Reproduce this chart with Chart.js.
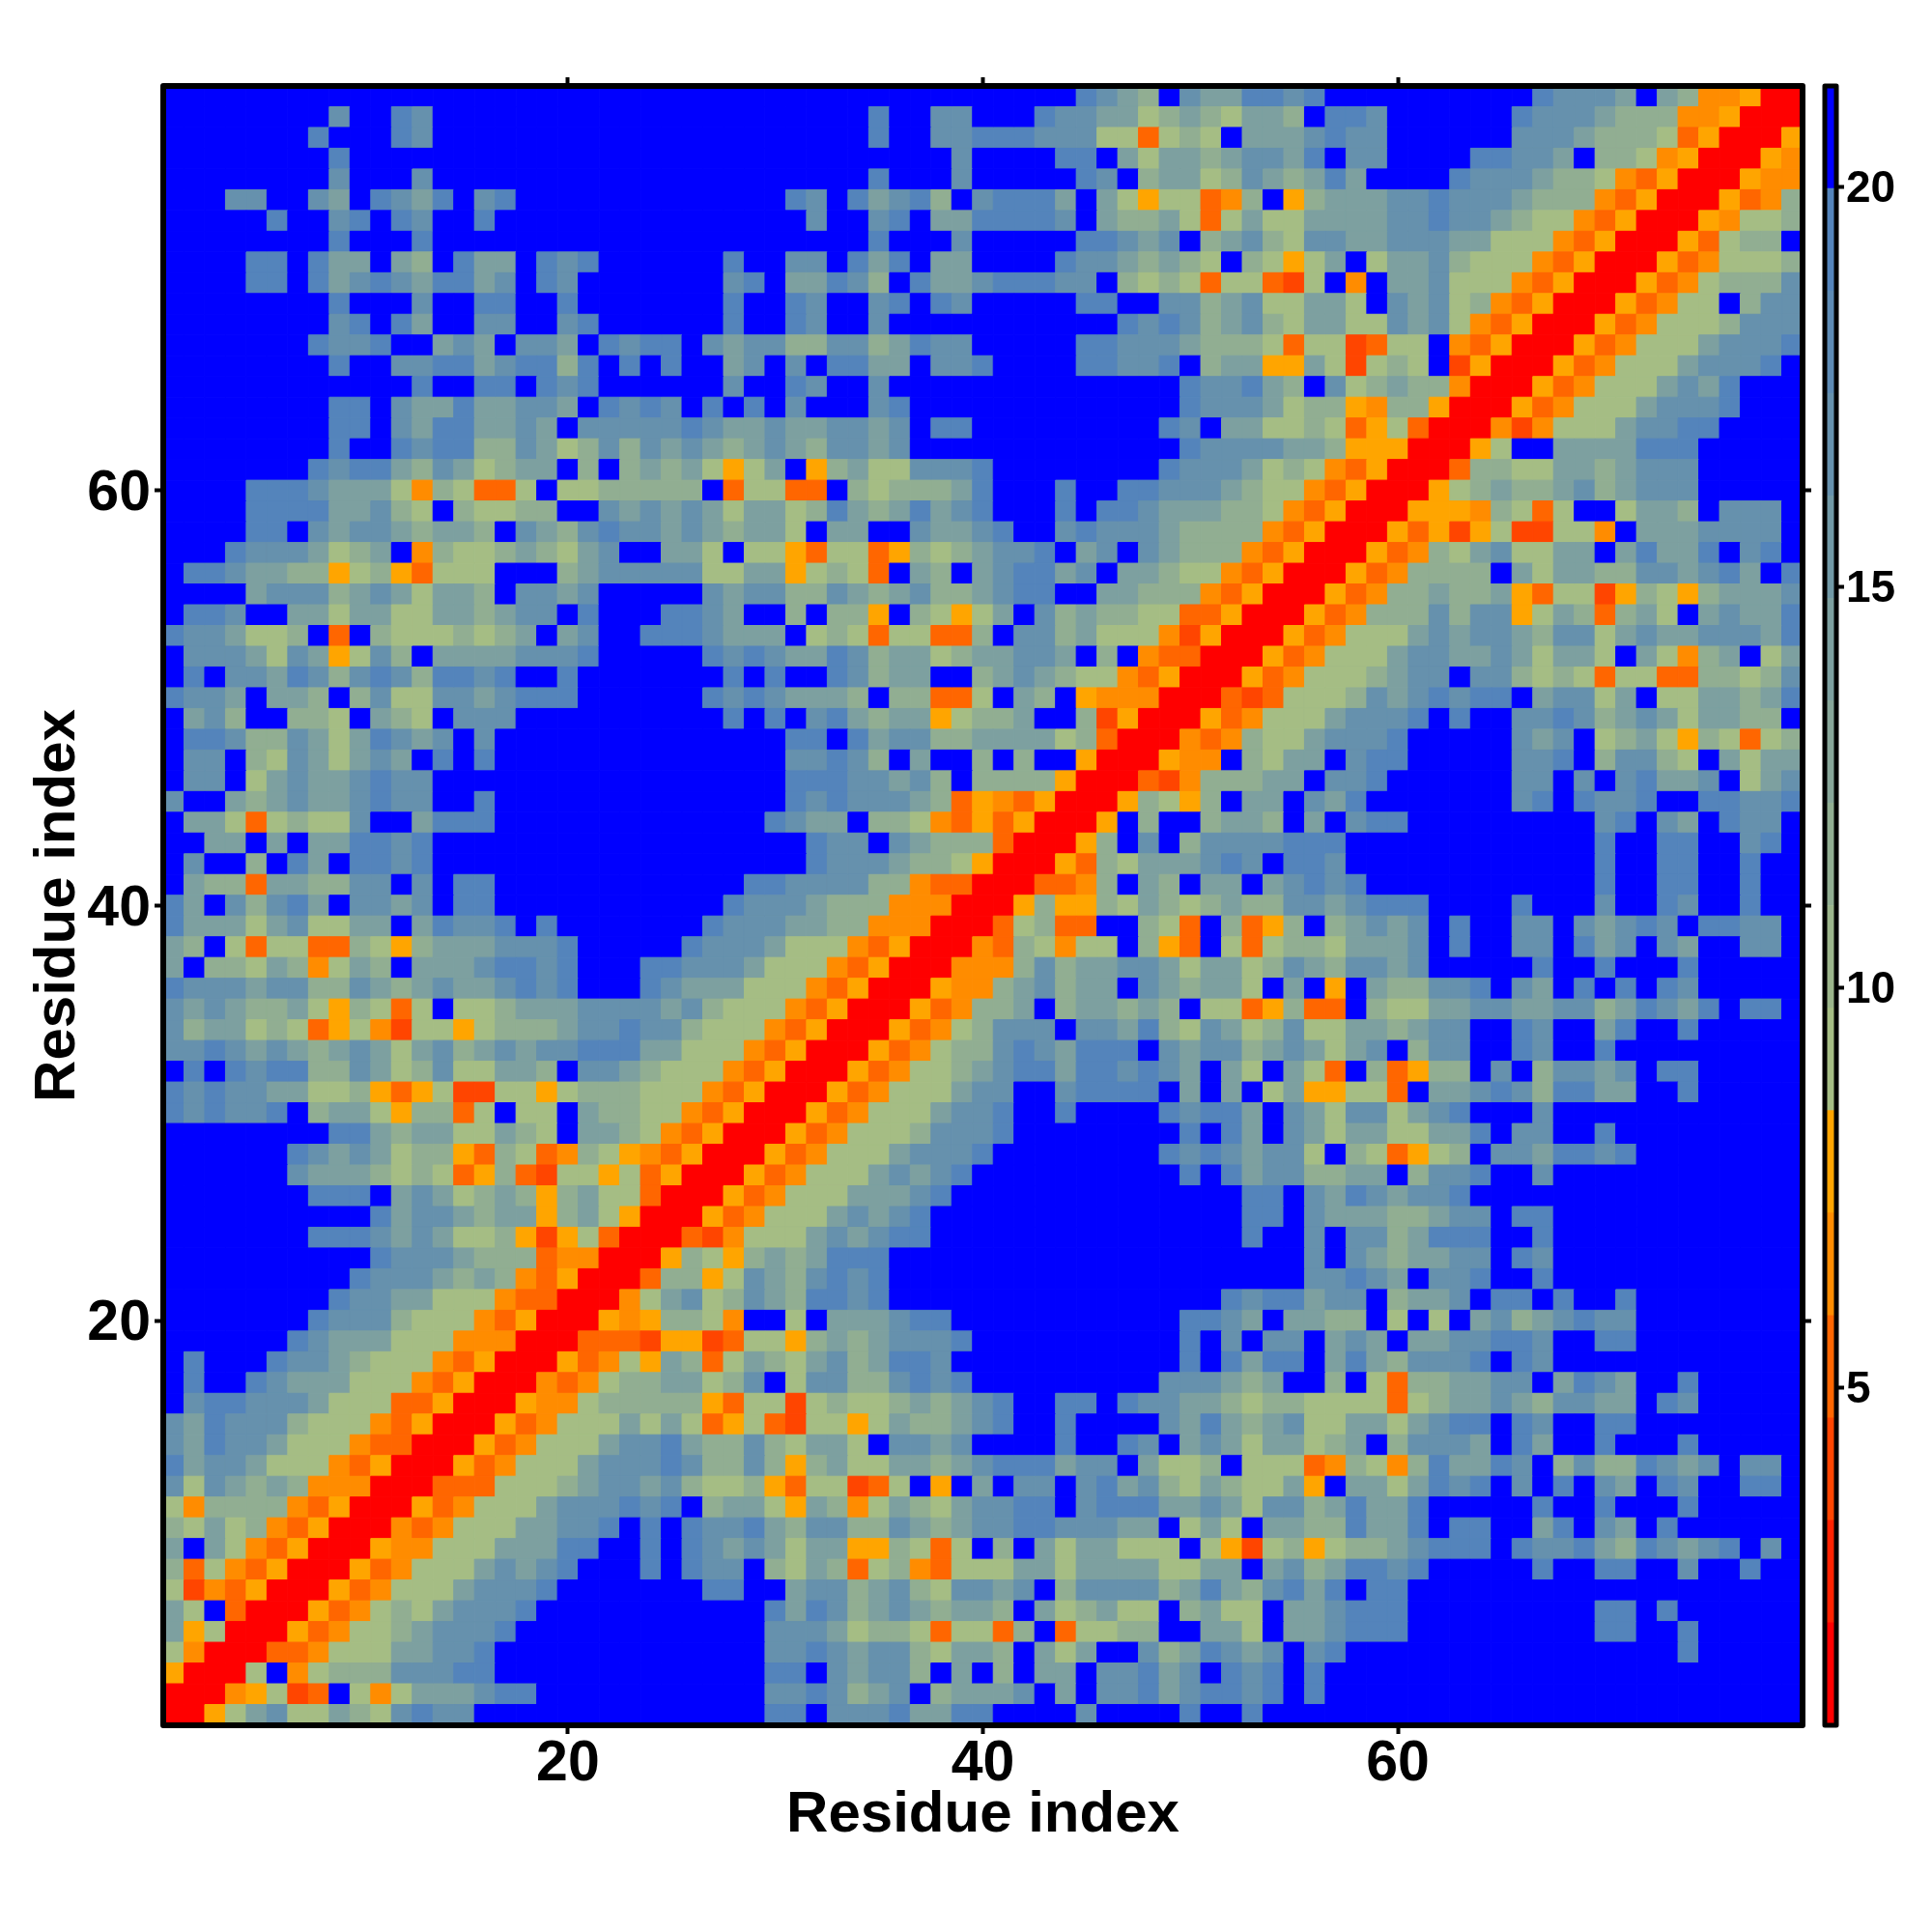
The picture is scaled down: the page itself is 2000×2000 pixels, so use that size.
<!DOCTYPE html>
<html>
<head>
<meta charset="utf-8">
<title>Residue distance map</title>
<script src="https://cdn.jsdelivr.net/npm/chart.js@4"></script>
<style>
  body { margin: 0; background: #fff; }
  #mapChart { position: absolute; left: 0; top: 0; }
  #barChart { position: absolute; left: 1880px; top: 0; }
</style>
</head>
<body>
<canvas id="mapChart" width="2000" height="2000"></canvas>
<canvas id="barChart" width="120" height="2000"></canvas>
<script>
const residueTicks = [20, 40, 60];
const barTicks = [5, 10, 15, 20];
const levelBreaks = [0.78, 2.06, 3.34, 4.62, 5.9, 7.18, 8.46, 9.74, 11.02, 12.3, 13.58, 14.86, 16.14, 17.42, 18.7, 19.98, 21.26];
const levelColors = ['#ff0000', '#ff2200', '#ff4500', '#ff6600', '#ff8c00', '#ffa500',
  '#a5bd84', '#9bb58b', '#91ae92', '#87a699', '#7da0a0', '#7199a6', '#6691ad', '#5d8ab4', '#5484bb', '#0000ff'];
// one character per cell
const codeValues = { '0': 1.5, '1': 4, '2': 5.2, '3': 6.5, '4': 7.8, '5': 9, '6': 11.5, '7': 14, '8': 16.5, '9': 19, '.': 21 };
const panelWidths = [27, 26, 26];
// rows run from residue 79 down to residue 1, three blocks per row, trailing blue left out
const distanceRows = [
". .................9876.8779 989..........98887.7633400",
"........8..98 .......9..88...98877567657 76.998......98887666334000",
".......9...98 .......9..88999888552565.7 778988......88876665240004",
"........9 ...........8....99.7577678 879.88....99887.6653400043",
"........8...8 .......9...8.....98.677568 76797....98887665324000433",
"...88..87.9879.89 ...98.97896.89997.75455236 .4677788988876663240004236",
".....9..89.98..9 ....8..89.7799998.76675257 55777788988765532400043556",
"........9...9 .......9...8.....99878.678 6588778887755532400042566.",
"....99.977.76.977.989 9..88.979.77....98876765.6 5457.577865553240004235556",
"....99.9789879978.98 89.77986.977899988.6565255 215.3.77855532400042356668",
"........9...8..99..9 9..98..89.98.....99..88678 55775.8785632400042355.688",
"........89.97..88..89 9..98..8...........9898678 65775587853240004235556888",
".......9889..787.887.9899.8 788668867988.....998887666 52551255.32400042355578889",
"........9..8899789969.9.9 78.8.9977.889....99889.677 44751565.1400042355578889.",
"............9..99.989 8..98..8..............9889 76.85676630004235557879...",
"........99.877977887.9898.9 .9.8...89.............9888 75664366400042355578889...",
"........99.87997787.8888898 778778878.99.........98.77 5565245200031355578899....",
"........9..9899668756868787 678768878.............9888 877644400045..7777999.....",
".......989976875677.6.67675 457.467558889........98887 565324000266557767888.....",
"....99987775365225.5566666. 25522.6566679...9..9988876 553240004567667867888.....",
"....999977865.65566..878787 5775697679789...9.99877766 532400044436525..5776.888.",
"....99.878876776.8768988787 6775.77..87789..8988876666 32400042414511553.7778888.",
"...98887567.3655676578..775 .554255246567889.78.876663 2400042365785577.79779.89.",
".998776645642555...67888885 57745652.76.789978.7765532 40004236666.757766887897.9",
"....788867875776.8878.....8 7886687678667899..77666324 00042366766742551465467778",
".998..7757755776788.9...998 7..6.664.65457.86766552240 00423666868845762675.78779",
"9887556.2.65556567.78..9998 777.565255226.886755531400 04235557878876885787788879",
".88875874586.77778889.....9 89877986775677887.6.322000 42355578877875775.75367.57",
".9.88798689869989..9 9.9..98677..67876553240004 235556788.8865652552266568",
"9887.776.68558878999......9 8987776.66225.76.433300021 255568789899.78857.5577679",
".786..665.765.888 9.9.89767745667..614000423 55578889.9..8898678757766.",
".9986687579878.8 ...99.97886677775620003236 5578889.....878.5675465256",
".88.65875787.9.9 ...88986.7..6.6..4000433.6 577.899.....889.68865.7577",
".88.578778988 ...99988786.66664000213666 77.889......88.8.89778.578",
"8..7678778988..9 ...989888762432400046546.7 7.879.......89.9889..99889",
".775256558..7999 ..9877.665324240004.6..677 6.7.899.........89.87.988.",
"..77.7.779989 ....988.87666200046.8.6888 8999............9..99..89.",
".8..6.97.9989 ....9888766540004265777898 .998............9..99..9",
".7662776688.8.99 .998888663220002236.76.77. 78989...........9..99..9",
"97.86897.8878.99 98887666333000464465765676 68878999....9...8..98..9",
"97775785577.79889.9.......9 888776633300025622..652.62 46.67878.9..88.87898.9988.",
"76.52552265467778889.....98 8875553240003265355.642.52 56657778.9..88.978.87..88",
"7.665763576.77789989...9988 87555324000333686778875775 68768878.....9..9...9",
"98887886687678778989...9877 7555324000433678677.876775 .7.4.766889.87.9.9.98",
"8787667546525.5567778888786 555324000423667.677676.552 4622.65577887788679879.99.",
"867756524531554566678898865 5532400042356888.887965875 6855776788..98..79..9",
"889878767875786787889997755 53240004235668987999.87886 787578.688..98..9",
".9.9899668756855776.8876555 32400042355678997998987.75 .752.62466.8.68878.99",
"989887755642451155456665553 24000423555788..89999.7.7. 5744552.7789869977..9",
"989889.677546625.55.7665532 40004235557889..9....98997 .875885789...8",
"........99767755765.7765324 00042355568889........9.97 .8757755779.88..9",
"......987875664265236543240 0042355578889........98987 885.652456.8879989",
"......877765652462155452400 042355578789..........9.97 886677.6889..8",
".......999.7875676467552000 42355577789..............9 9.87987889",
"..........97887677467540004 2355578789...............9 9.877766788.99",
".......99987875564145200021 3555787899...............9 ..8.8867999..9",
"..........98887666233000465 46767999 ..8.8767788.98",
".........988876763240002664 58768989 ..88987.889..9",
"........9887755532200035785 68769989................98 99788.6778.99.9..9",
".......98886555324000434665 3..5.777899...........9987 .7766.5.5.78678988",
"......987775553330002221441 255467678889..........9.8. 88.787.7788998..99",
".9...9887655532400042354762 57657867998...........9.97 99.79768889.98",
".9..98777555324000323566775 68.588668989.........88876 7..6.52667788.7987..9",
".89988875552240004335666664 25515655676789..99.9887765 665555256778768877.98",
"879888655532400042355575752 45215545766789..9....87976 78557757899.98..99",
"879887555322000423555788976 6865775.8878....9..98.7875 77567.68887.97..9...9",
"978875553240004235557888986 6864675577678999788.7556.5 5523653697798.68669878.88",
"858767633300022255567887865 564255125.4.7.88.897865765 574.7757989.8.9.87.98..99",
"5366663240004235557888989.6 7754763576578899.899977875 88679779.....9..9...9",
"6575632400032355577889.9.98 897688668767889988877.575. 77669779.99..79.87.9",
"7.7532400043355577799..9.98 787577446525.6.7577555.541 56456678999.98897698789.8",
"62532400042355578789...9.98 8.65762563255577577775577. 78679989.....9..99..8..9",
"5132400042355578889.......9 9..788678658878.6888867976 8979.99",
"75.200042356578889 ..979867876776.756755.6755 .778999.........99.9",
"74500042355678889 ..8887566525526.25566..775 .778999.........99..9",
"5300022355577889 ..889878865776.757..867987 8.89................9",
"40005.3566688899 ..99.87886.7.6.77.88978.98 9.9",
"00034512.535777899 ..8898678.67778.7.88978998 9.9",
"004578557658988 ..99.88897799....8....9..9 ."
];

const rowCount = distanceRows.length;
const axisMin = 0.5;
const axisMax = rowCount + 0.5;

function levelColor(v) {
  for (let i = 0; i < levelColors.length; i++) {
    if (v < levelBreaks[i + 1]) return levelColors[i];
  }
  return levelColors[levelColors.length - 1];
}

const cells = [];
distanceRows.forEach(function (row, i) {
  const text = row.split(' ').map(function (part, k) {
    return part.padEnd(panelWidths[k], '.');
  }).join('');
  for (let c = 0; c < text.length; c++) {
    cells.push({ x: c + 1, y: rowCount - i, v: codeValues[text[c]] });
  }
});

// outline of the plot, both charts use it
const frame = {
  id: 'frame',
  afterDraw(chart, args, opts) {
    const a = chart.chartArea;
    const ctx = chart.ctx;
    ctx.save();
    ctx.strokeStyle = '#000';
    ctx.lineWidth = opts.width;
    ctx.lineJoin = 'round';
    ctx.strokeRect(a.left, a.top, a.right - a.left, a.bottom - a.top);
    ctx.restore();
  }
};

function setTicks(values) {
  return function (axis) {
    axis.ticks = values.map(function (v) { return { value: v }; });
  };
}

function residueAxis(position, size, extra) {
  const horizontal = position === 'top' || position === 'bottom';
  return Object.assign({
    type: 'linear',
    position: position,
    min: axisMin,
    max: axisMax,
    afterBuildTicks: setTicks(residueTicks),
    afterFit(axis) {
      if (horizontal) axis.height = size; else axis.width = size;
    },
    border: { display: false },
    grid: { drawOnChartArea: false, tickLength: 9, tickWidth: 4, tickColor: '#000' },
    ticks: { display: false }
  }, extra);
}

const labelFont = { family: 'Liberation Sans', weight: 'bold', size: 59 };
const titleFont = { family: 'Liberation Sans', weight: 'bold', size: 60 };

new Chart(document.getElementById('mapChart'), {
  type: 'scatter',
  data: {
    datasets: [{
      data: cells,
      pointStyle: 'rect',
      pointRadius(ctx) {
        const s = ctx.chart.scales.x;
        return (s.getPixelForValue(1) - s.getPixelForValue(0)) * Math.SQRT1_2;
      },
      pointHoverRadius: 0,
      pointBackgroundColor(ctx) { return levelColor(ctx.raw.v); },
      pointBorderColor(ctx) { return levelColor(ctx.raw.v); },
      pointBorderWidth: 1
    }]
  },
  plugins: [frame],
  options: {
    responsive: false,
    animation: false,
    events: [],
    plugins: { legend: { display: false }, tooltip: { enabled: false }, frame: { width: 6 } },
    scales: {
      x: residueAxis('bottom', 214, {
        ticks: { display: true, font: labelFont, color: '#000', maxRotation: 0, autoSkip: false, padding: -4 },
        title: { display: true, text: 'Residue index', font: titleFont, color: '#000', padding: { top: 0, bottom: 85 } }
      }),
      y: residueAxis('left', 169, {
        ticks: { display: true, font: labelFont, color: '#000', autoSkip: false, padding: 4, labelOffset: 4 },
        title: { display: true, text: 'Residue index', font: titleFont, color: '#000', padding: { top: 24, bottom: 0 } }
      }),
      xTop: residueAxis('top', 89),
      yRight: residueAxis('right', 134)
    }
  }
});

new Chart(document.getElementById('barChart'), {
  type: 'bar',
  data: {
    labels: ['distance'],
    datasets: levelColors.map(function (color, i) {
      return {
        data: [[levelBreaks[i], levelBreaks[i + 1]]],
        backgroundColor: color,
        grouped: false,
        barPercentage: 1,
        categoryPercentage: 1
      };
    })
  },
  plugins: [frame],
  options: {
    responsive: false,
    animation: false,
    events: [],
    layout: { padding: { left: 9, top: 89, bottom: 214 } },
    plugins: { legend: { display: false }, tooltip: { enabled: false }, frame: { width: 5 } },
    scales: {
      x: { display: false },
      y: {
        position: 'right',
        min: levelBreaks[0],
        max: levelBreaks[levelBreaks.length - 1],
        afterBuildTicks: setTicks(barTicks),
        afterFit(axis) { axis.width = 99; },
        border: { display: false },
        grid: { drawOnChartArea: false, tickLength: 8, tickWidth: 4, tickColor: '#000' },
        ticks: { font: { family: 'Liberation Sans', weight: 'bold', size: 46 }, color: '#000', padding: 2, autoSkip: false, labelOffset: 3 }
      }
    }
  }
});
</script>
</body>
</html>
